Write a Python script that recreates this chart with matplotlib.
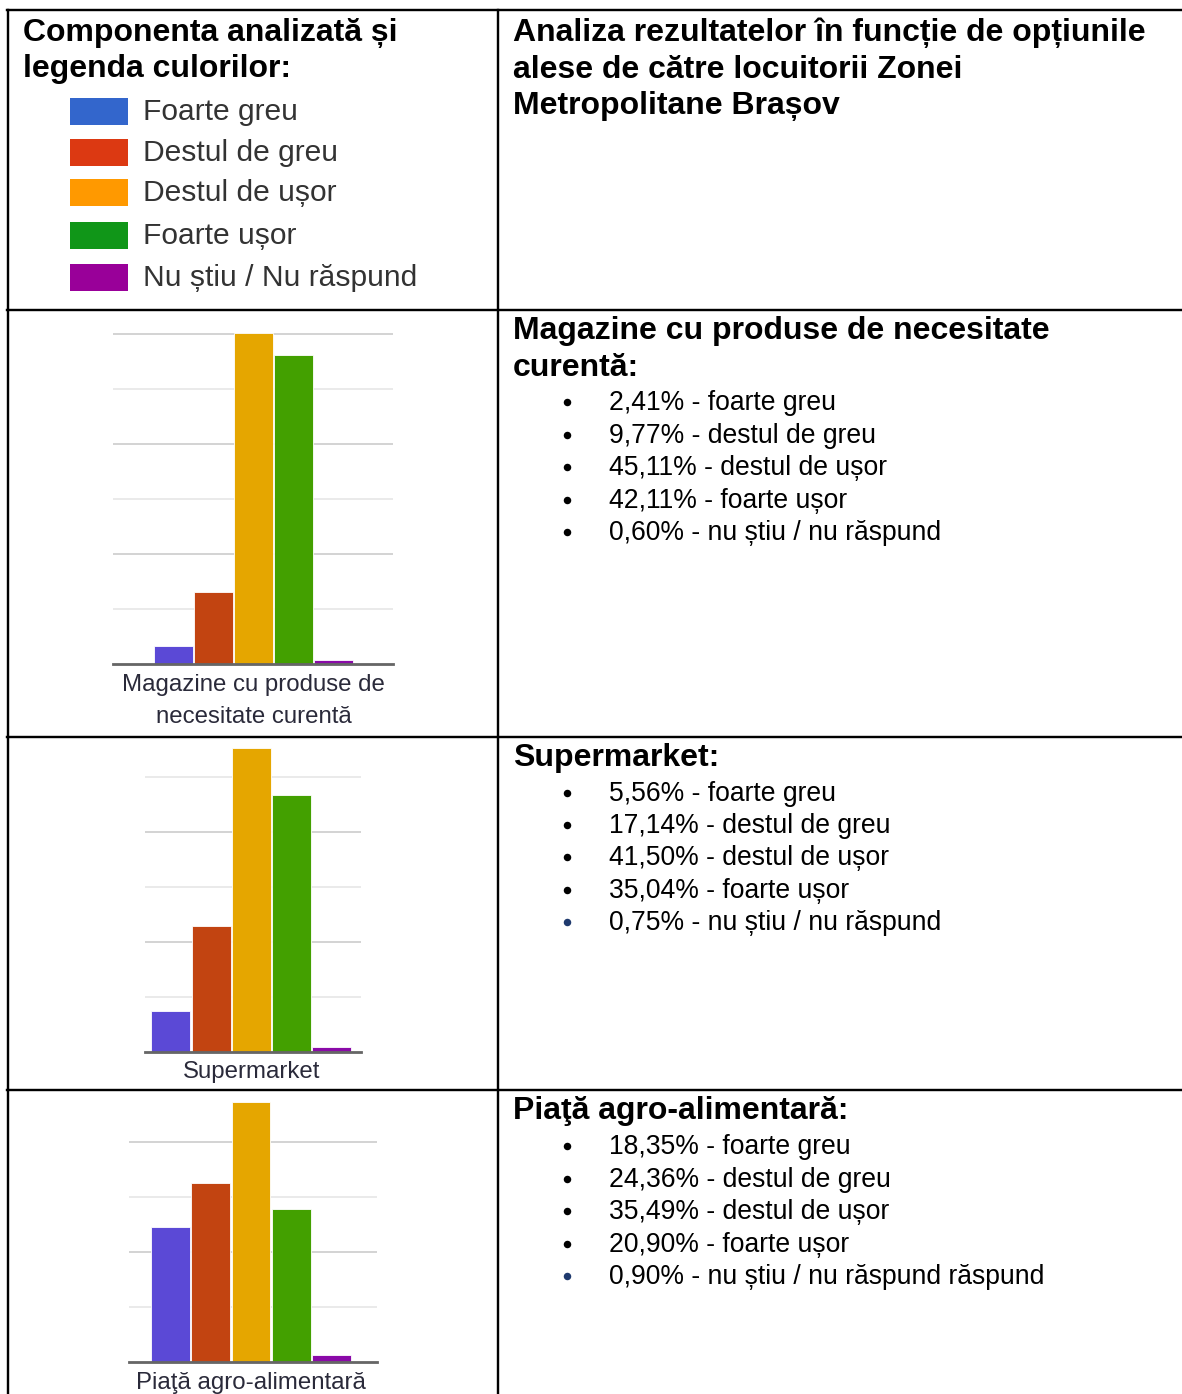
import numpy as np
import matplotlib
matplotlib.use('Agg')
import matplotlib.pyplot as plt
from matplotlib.lines import Line2D
from matplotlib.patches import Rectangle

plt.rcParams['font.family'] = ['Liberation Sans', 'DejaVu Sans']

# ---- data -----------------------------------------------------------------
legend_labels = ['Foarte greu', 'Destul de greu', 'Destul de ușor', 'Foarte ușor', 'Nu știu / Nu răspund']
legend_colors = ['#3366CC', '#DC3912', '#FF9900', '#109618', '#990099']
bar_colors = ['#5B49D6', '#C24411', '#E5A600', '#43A000', '#8A0AA8']

answer_labels = ['foarte greu', 'destul de greu', 'destul de ușor', 'foarte ușor', 'nu știu / nu răspund']

comp_names = [['Magazine cu produse de', 'necesitate curentă'], ['Supermarket'], ['Piaţă agro-alimentară']]
comp_titles = [['Magazine cu produse de necesitate', 'curentă:'], ['Supermarket:'], ['Piaţă agro-alimentară:']]

magazine_vals = [2.41, 9.77, 45.11, 42.11, 0.60]
supermarket_vals = [5.56, 17.14, 41.50, 35.04, 0.75]
piata_vals = [18.35, 24.36, 35.49, 20.90, 0.90]
magazine_txt = ['2,41%', '9,77%', '45,11%', '42,11%', '0,60%']
supermarket_txt = ['5,56%', '17,14%', '41,50%', '35,04%', '0,75%']
piata_txt = ['18,35%', '24,36%', '35,49%', '20,90%', '0,90%']

header_left = ['Componenta analizată și', 'legenda culorilor:']
header_right = ['Analiza rezultatelor în funcție de opțiunile', 'alese de către locuitorii Zonei',
                'Metropolitane Brașov']

# ---- figure in pixel coordinates ------------------------------------------
W, H = 1182, 1394
fig = plt.figure(figsize=(W / 100, H / 100), dpi=100)
bg = fig.add_axes([0, 0, 1, 1])
bg.set_xlim(0, W)
bg.set_ylim(H, 0)
bg.axis('off')

def px(v):                      # pixel -> points
    return v * 0.72

def lines(x, y0, txt, step, **kw):
    for i, t in enumerate(txt):
        bg.text(x, y0 + i * step, t, **kw)

bold = dict(fontsize=px(32), fontweight='bold', va='center', ha='left', color='black')

# table lines
for y in [10, 310, 737, 1090]:
    bg.add_line(Line2D([7, W], [y, y], color='black', lw=px(2.4)))
bg.add_line(Line2D([8, 8], [10, H], color='black', lw=px(2.4)))
bg.add_line(Line2D([498, 498], [10, H], color='black', lw=px(2.4)))

# header texts
lines(23, 33, header_left, 36.5, **bold)
lines(513, 33, header_right, 36.5, **bold)

# legend
leg_y = [111, 152, 192, 235, 277]
for lab, col, y in zip(legend_labels, legend_colors, leg_y):
    bg.add_patch(Rectangle((70, y - 13), 58, 27, facecolor=col, edgecolor='none'))
    bg.text(143, y + 1, lab, fontsize=px(30), va='center', ha='left', color='#333333')

# ---- mini bar charts --------------------------------------------------------
scale = 7.33                    # px per percent
charts = [
    # values, baseline y, axes left, axes right, group center, ymax, label y
    (magazine_vals, 664, 113, 393, 253.5, 46, 685),
    (supermarket_vals, 1052, 145, 361, 251.3, 42, 1072),
    (piata_vals, 1362, 129, 377, 251, 36, 1383),
]
pitch = 40.2
for (vals, base, xl, xr, cx, ymax, ly), name in zip(charts, comp_names):
    hpx = ymax * scale
    ax = fig.add_axes([xl / W, (H - base) / H, (xr - xl) / W, hpx / H])
    x = np.arange(len(vals))
    ax.set_xlim(2 - (cx - xl) / pitch, 2 + (xr - cx) / pitch)
    ax.set_ylim(0, ymax)
    for k, g in enumerate(np.arange(7.5, ymax, 7.5)):
        ax.axhline(g, color='#EAEAEA' if k % 2 == 0 else '#D4D4D4', lw=px(2), zorder=0)
    ax.bar(x, vals, width=0.97, color=bar_colors, edgecolor='white', lw=0.6, zorder=2)
    ax.axhline(0, color='#666666', lw=px(2.8), zorder=3, clip_on=False)
    ax.set_xticks([])
    ax.set_yticks([])
    for s in ax.spines.values():
        s.set_visible(False)
    ax.patch.set_alpha(0)
    lines(cx, ly, name, 32, fontsize=px(24), ha='center', va='center', color='#2a2a3a')

# ---- right column texts ------------------------------------------------------
rows = [
    (comp_titles[0], 331, magazine_txt, [402, 435, 467, 500, 532], ['black'] * 5, answer_labels),
    (comp_titles[1], 758, supermarket_txt, [793, 825, 857, 890, 922], ['black'] * 4 + ['#1F3A6E'], answer_labels),
    (comp_titles[2], 1111, piata_txt, [1146, 1179, 1211, 1244, 1276], ['black'] * 4 + ['#1F3A6E'],
     answer_labels[:4] + ['nu știu / nu răspund răspund']),
]
for title, ty, txt, ys, bcols, labs in rows:
    lines(513, ty, title, 36.5, **bold)
    for t, y, bc, lab in zip(txt, ys, bcols, labs):
        bg.plot(567, y, 'o', ms=px(7.5), color=bc, mec='none')
        bg.text(609, y + 1, t + ' - ' + lab, fontsize=px(26.5), va='center', ha='left', color='black')

fig.savefig('out.png', dpi=100)
